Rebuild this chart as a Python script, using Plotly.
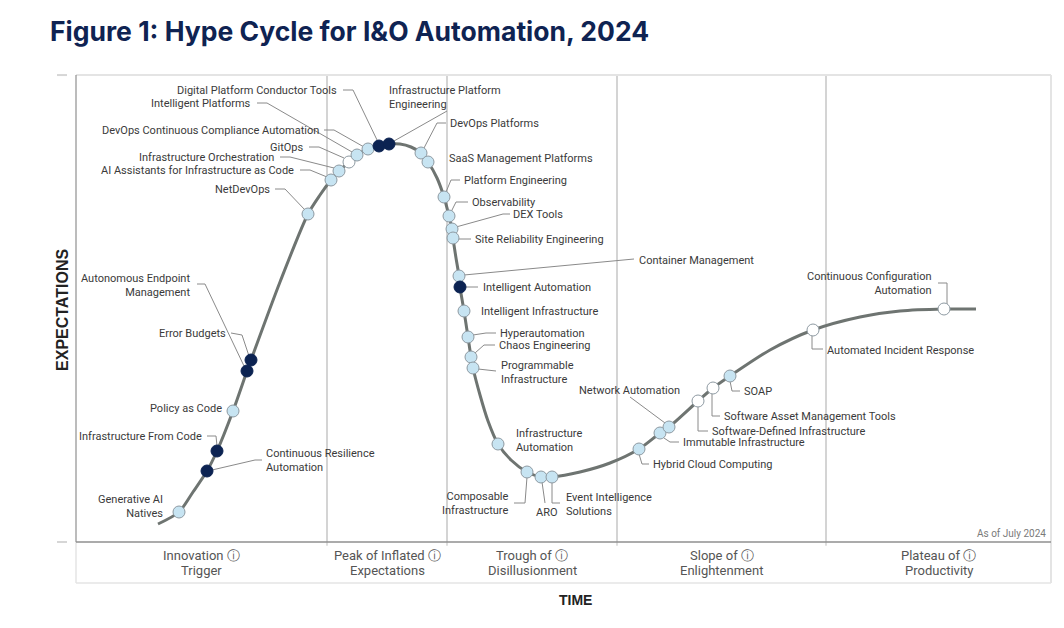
import plotly.graph_objects as go

# ---------------- data (time units, expectation units) ----------------
curve_x = [8.2, 10.3, 11.7, 13.1, 14.1, 15.7, 17.1, 17.5, 20.4, 23.2, 24.4, 25.5, 26.3, 27.3,
           28.1, 29.2, 30.3, 31.3, 32.4, 33.5, 34.5, 35.2, 36.1, 36.8, 37.3, 37.6, 37.7, 38.0, 38.3,
           38.4, 38.8, 39.2, 39.5, 39.7, 40.4, 41.2, 42.2, 43.5, 45.1, 46.5, 47.6, 50.4, 53.4, 56.3,
           58.4, 59.3, 62.2, 63.7, 65.4, 69.4, 73.7, 78.4, 82.4, 86.8, 90.0]
curve_y = [1.8, 3.0, 5.0, 7.1, 9.1, 13.1, 17.1, 18.2, 26.0, 32.8, 34.7, 36.2, 37.1, 38.0,
           38.7, 39.3, 39.6, 39.8, 39.8, 39.5, 38.9, 38.0, 36.4, 34.5, 32.6, 31.3, 30.4, 28.4, 26.6,
           25.5, 23.1, 20.5, 18.5, 17.4, 14.7, 12.1, 9.8, 8.2, 7.0, 6.5, 6.5, 7.0, 7.9, 9.3,
           10.9, 11.5, 14.1, 15.4, 16.6, 19.2, 21.2, 22.5, 23.1, 23.3, 23.3]

tech_names = [
    "Generative AI Natives", "Continuous Resilience Automation", "Infrastructure From Code",
    "Policy as Code", "Autonomous Endpoint Management", "Error Budgets", "NetDevOps",
    "AI Assistants for Infrastructure as Code", "Infrastructure Orchestration", "GitOps",
    "Intelligent Platforms", "DevOps Continuous Compliance Automation",
    "Digital Platform Conductor Tools", "Infrastructure Platform Engineering", "DevOps Platforms",
    "SaaS Management Platforms", "Platform Engineering", "Observability", "DEX Tools",
    "Site Reliability Engineering", "Container Management", "Intelligent Automation",
    "Intelligent Infrastructure", "Hyperautomation", "Chaos Engineering",
    "Programmable Infrastructure", "Infrastructure Automation", "Composable Infrastructure",
    "ARO", "Event Intelligence Solutions", "Hybrid Cloud Computing", "Immutable Infrastructure",
    "Network Automation", "Software-Defined Infrastructure", "Software Asset Management Tools",
    "SOAP", "Automated Incident Response", "Continuous Configuration Automation"]
tech_x = [10.3, 13.1, 14.1, 15.7, 17.1, 17.5, 23.2, 25.5, 26.3, 27.3, 28.1, 29.2, 30.3, 31.3,
          34.5, 35.2, 36.8, 37.3, 37.6, 37.7, 38.3, 38.4, 38.8, 39.2, 39.5, 39.7, 42.2, 45.1,
          46.5, 47.6, 56.3, 58.4, 59.3, 62.2, 63.7, 65.4, 73.7, 86.8]
tech_y = [3.0, 7.1, 9.1, 13.1, 17.1, 18.2, 32.8, 36.2, 37.1, 38.0, 38.7, 39.3, 39.6, 39.8,
          38.9, 38.0, 34.5, 32.6, 31.3, 30.4, 26.6, 25.5, 23.1, 20.5, 18.5, 17.4, 9.8, 7.0,
          6.5, 6.5, 9.3, 10.9, 11.5, 14.1, 15.4, 16.6, 21.2, 23.3]
# marker category: light / dark / white
tech_class = ["light", "dark", "dark", "light", "dark", "dark", "light", "light", "light", "white",
              "light", "light", "dark", "dark", "light", "light", "light", "light", "light",
              "light", "light", "dark", "light", "light", "light", "light", "light", "light",
              "light", "light", "light", "light", "light", "white", "white", "light", "white",
              "white"]

phase_line1 = ["Innovation ⓘ", "Peak of Inflated ⓘ", "Trough of ⓘ", "Slope of ⓘ", "Plateau of ⓘ"]
phase_line2 = ["Trigger", "Expectations", "Disillusionment", "Enlightenment", "Productivity"]
phase_bounds = [0.0, 25.1, 37.1, 54.1, 75.0, 97.5]

# ---------------- label layout (text, x, y, anchor, leader path) ----------------
labels = [
    ("Generative AI<br>Natives", 8.8, 3.6, "right", []),
    ("Continuous Resilience<br>Automation", 18.9, 8.2, "left", [(13.6, 7.2), (17.9, 8.2), (18.6, 8.2)]),
    ("Infrastructure From Code", 12.7, 10.6, "right", [(13.1, 10.6), (14.0, 10.6), (14.1, 9.6)]),
    ("Policy as Code", 14.7, 13.4, "right", []),
    ("Autonomous Endpoint<br>Management", 11.5, 25.7, "right", [(12.1, 25.8), (12.9, 25.8), (16.8, 17.6)]),
    ("Error Budgets", 15.1, 20.9, "right", [(15.5, 20.9), (16.6, 20.7), (17.3, 18.6)]),
    ("NetDevOps", 19.5, 35.3, "right", [(19.9, 35.3), (20.9, 35.3), (22.9, 33.2)]),
    ("AI Assistants for Infrastructure as Code", 21.9, 37.2, "right", [(22.4, 37.2), (23.4, 37.2), (25.1, 36.5)]),
    ("Infrastructure Orchestration", 19.9, 38.5, "right", [(20.4, 38.5), (21.4, 38.5), (25.8, 37.4)]),
    ("GitOps", 22.9, 39.5, "right", [(23.3, 39.5), (24.3, 39.5), (26.8, 38.4)]),
    ("Intelligent Platforms", 17.6, 43.9, "right", [(18.1, 43.9), (19.1, 43.9), (27.6, 39.0)]),
    ("DevOps Continuous Compliance Automation", 24.4, 41.2, "right", [(24.8, 41.2), (25.8, 41.2), (28.8, 39.5)]),
    ("Digital Platform Conductor Tools", 26.2, 45.2, "right", [(26.7, 45.2), (27.7, 45.2), (30.2, 40.0)]),
    ("Infrastructure Platform<br>Engineering", 31.2, 44.5, "left", [(37.1, 43.1), (31.8, 40.1)]),
    ("DevOps Platforms", 37.3, 41.9, "left", [(37.0, 41.9), (36.1, 41.9), (34.8, 39.4)]),
    ("SaaS Management Platforms", 37.2, 38.4, "left", []),
    ("Platform Engineering", 38.7, 36.2, "left", [(37.0, 35.0), (37.5, 36.2), (38.4, 36.2)]),
    ("Observability", 39.5, 34.0, "left", [(37.5, 33.0), (38.0, 34.0), (39.2, 34.0)]),
    ("DEX Tools", 43.6, 32.8, "left", [(38.0, 31.5), (42.7, 32.8), (43.4, 32.8)]),
    ("Site Reliability Engineering", 39.8, 30.3, "left", [(38.2, 30.3), (39.5, 30.3)]),
    ("Container Management", 56.2, 28.2, "left", [(38.8, 26.7), (55.8, 28.3)]),
    ("Intelligent Automation", 40.6, 25.5, "left", [(38.9, 25.5), (40.2, 25.5)]),
    ("Intelligent Infrastructure", 40.4, 23.1, "left", []),
    ("Hyperautomation", 42.3, 20.9, "left", [(39.7, 20.7), (41.0, 20.9), (42.0, 20.9)]),
    ("Chaos Engineering", 42.2, 19.7, "left", [(39.9, 18.9), (40.8, 19.7), (41.9, 19.7)]),
    ("Programmable<br>Infrastructure", 42.4, 17.0, "left", [(40.2, 17.3), (42.0, 17.1)]),
    ("Infrastructure<br>Automation", 43.9, 10.2, "left", []),
    ("Composable<br>Infrastructure", 43.4, 3.9, "right", [(45.1, 6.5), (44.9, 3.9), (43.8, 3.9)]),
    ("ARO", 47.1, 3.0, "center", [(46.6, 6.0), (46.9, 3.9)]),
    ("Event Intelligence<br>Solutions", 48.9, 3.8, "left", [(47.6, 6.0), (47.6, 3.9), (48.4, 3.9)]),
    ("Hybrid Cloud Computing", 57.6, 7.8, "left", [(56.3, 8.8), (56.6, 7.8), (57.3, 7.8)]),
    ("Immutable Infrastructure", 60.6, 10.0, "left", [(58.8, 10.4), (59.4, 10.0), (60.3, 10.0)]),
    ("Network Automation", 60.5, 15.2, "right", [(55.4, 14.5), (58.9, 11.9)]),
    ("Software-Defined Infrastructure", 63.5, 11.1, "left", [(62.2, 13.6), (62.2, 11.1), (63.2, 11.1)]),
    ("Software Asset Management Tools", 64.7, 12.6, "left", [(63.6, 14.9), (63.6, 12.6), (64.4, 12.6)]),
    ("SOAP", 66.7, 15.1, "left", [(65.4, 16.1), (65.6, 15.1), (66.4, 15.1)]),
    ("Automated Incident Response", 75.0, 19.2, "left", [(73.6, 20.7), (73.6, 19.3), (74.7, 19.3)]),
    ("Continuous Configuration<br>Automation", 85.7, 25.9, "right", [(87.1, 23.8), (87.1, 25.9), (86.2, 25.9)]),
]

X_MAX, Y_MAX = 97.5, 46.6
LABEL_FONT = dict(family="Roboto, Arial, sans-serif", size=11, color="#3a3a3a")
PHASE_FONT = dict(family="Liberation Sans Narrow, Roboto, Arial", size=13, color="#555555")
fill_map = {"light": "#c7e4f2", "dark": "#0c2352", "white": "#ffffff"}
line_map = {"light": "#8e9aa2", "dark": "#0c2352", "white": "#8e9aa2"}

fig = go.Figure()

fig.add_trace(go.Scatter(
    x=curve_x, y=curve_y, mode="lines",
    line=dict(color="#6e7471", width=3, shape="spline", smoothing=0.8),
    hoverinfo="skip", showlegend=False))

fig.add_trace(go.Scatter(
    x=tech_x, y=tech_y, mode="markers", text=tech_names, hoverinfo="text",
    marker=dict(size=12, color=[fill_map[c] for c in tech_class],
                line=dict(color=[line_map[c] for c in tech_class], width=1)),
    showlegend=False))

shapes = []
for b in phase_bounds[1:-1]:
    shapes.append(dict(type="line", xref="x", yref="y", x0=b, x1=b, y0=0, y1=Y_MAX,
                       line=dict(color="#a9a9a9", width=1), layer="below"))
    shapes.append(dict(type="line", xref="x", yref="paper", x0=b, x1=b, y0=0, y1=-0.008,
                       line=dict(color="#bdbdbd", width=1), layer="below"))
shapes += [
    dict(type="line", xref="paper", yref="paper", x0=0, x1=1, y0=1.002, y1=1.002,
         line=dict(color="#e4e4e4", width=2)),
    dict(type="line", xref="paper", yref="paper", x0=1, x1=1, y0=1.002, y1=-0.088,
         line=dict(color="#e4e4e4", width=2)),
    dict(type="line", xref="paper", yref="paper", x0=0, x1=1, y0=-0.088, y1=-0.088,
         line=dict(color="#e4e4e4", width=1.5)),
    dict(type="line", xref="paper", yref="paper", x0=0, x1=0, y0=0, y1=-0.088,
         line=dict(color="#e4e4e4", width=1.5)),
    dict(type="line", xref="paper", yref="paper", x0=0, x1=0, y0=0, y1=1.002,
         line=dict(color="#8f8f8f", width=1.2)),
    dict(type="line", xref="paper", yref="paper", x0=0, x1=1, y0=0, y1=0,
         line=dict(color="#8f8f8f", width=1.5)),
    dict(type="line", xref="paper", yref="paper", x0=-0.0195, x1=-0.0092, y0=1.002, y1=1.002,
         line=dict(color="#d6d6d6", width=2)),
    dict(type="line", xref="paper", yref="paper", x0=-0.0195, x1=-0.0092, y0=0, y1=0,
         line=dict(color="#d6d6d6", width=2)),
]
for text, lx, ly, anc, path in labels:
    if len(path) >= 2:
        d = "M " + " L ".join(f"{px},{py}" for px, py in path)
        shapes.append(dict(type="path", xref="x", yref="y", path=d,
                           line=dict(color="#8a8a8a", width=1), layer="below"))

annotations = []
for text, lx, ly, anc, path in labels:
    annotations.append(dict(x=lx, y=ly, xref="x", yref="y", text=text, showarrow=False,
                            xanchor=anc, yanchor="middle", align=anc,
                            font=LABEL_FONT, borderpad=0))

for i in range(len(phase_line1)):
    cx = (phase_bounds[i] + phase_bounds[i + 1]) / 2
    annotations.append(dict(x=cx, y=-0.030, xref="x", yref="paper", text=phase_line1[i],
                            showarrow=False, xanchor="center", yanchor="middle", font=PHASE_FONT,
                            borderpad=0))
    annotations.append(dict(x=cx, y=-0.0622, xref="x", yref="paper", text=phase_line2[i],
                            showarrow=False, xanchor="center", yanchor="middle", font=PHASE_FONT,
                            borderpad=0))

annotations += [
    dict(x=0.997, y=0.0193, xref="paper", yref="paper", text="As of July 2024", showarrow=False,
         xanchor="right", yanchor="middle",
         font=dict(family="Roboto, Arial", size=10, color="#7a7a7a")),
    dict(x=-0.0133, y=0.498, xref="paper", yref="paper", text="<b>EXPECTATIONS</b>",
         showarrow=False, textangle=-90, xanchor="center", yanchor="middle",
         font=dict(family="Liberation Sans, Arial", size=16, color="#222222")),
    dict(x=0.512, y=-0.1245, xref="paper", yref="paper", text="<b>TIME</b>", showarrow=False,
         xanchor="center", yanchor="middle",
         font=dict(family="Liberation Sans, Arial", size=14, color="#222222")),
]

# page body has an 8px margin: figure is sized/offset so the plot lands where intended
fig.update_layout(
    width=1048, height=612,
    margin=dict(l=68, r=5, t=68, b=78),
    paper_bgcolor="white", plot_bgcolor="white",
    title=dict(text="<b>Figure 1: Hype Cycle for I&O Automation, 2024</b>",
               x=42 / 1048, y=1 - 24 / 612, xanchor="left", yanchor="middle",
               font=dict(family="Inter, Roboto, Arial", size=26.5, color="#0f2352")),
    xaxis=dict(range=[0, X_MAX], visible=False, fixedrange=True),
    yaxis=dict(range=[0, Y_MAX], visible=False, fixedrange=True),
    shapes=shapes, annotations=annotations,
)

fig.write_html("out.html")
